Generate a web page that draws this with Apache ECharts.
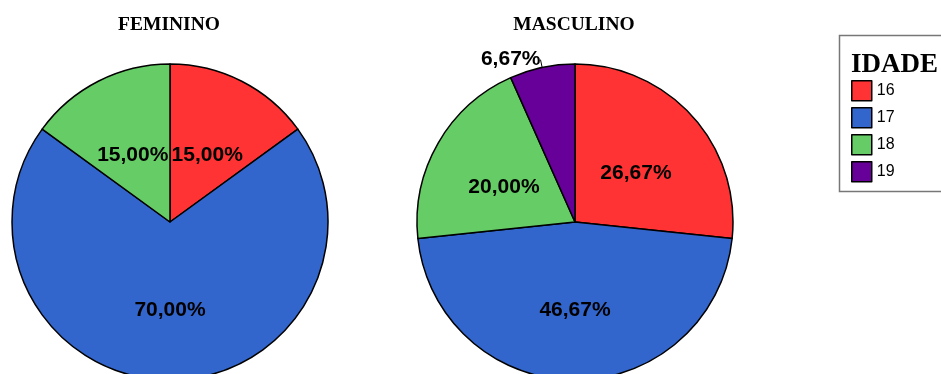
<!DOCTYPE html>
<html>
<head>
<meta charset="utf-8">
<script src="https://cdn.jsdelivr.net/npm/echarts@6/dist/echarts.min.js"></script>
<style>
html,body{margin:0;padding:0;background:#fff;}
#chart{width:941px;height:374px;}
</style>
</head>
<body>
<div id="chart"></div>
<script>
// Data
const categories = ['16', '17', '18', '19'];
const colors = ['#FF3333', '#3366CC', '#66CC66', '#660099'];
const panelTitles = ['FEMININO', 'MASCULINO'];
const femininoCounts = [3, 14, 3, 0];
const masculinoCounts = [4, 7, 3, 1];
const legendTitle = 'IDADE';

const chart = echarts.init(document.getElementById('chart'));

function buildData(counts, outsideIdx) {
  const total = counts.reduce((a, b) => a + b, 0);
  const out = [];
  counts.forEach((v, i) => {
    if (v <= 0) return;
    const pct = (v / total * 100).toFixed(2).replace('.', ',') + '%';
    const item = { name: categories[i], value: v, pct: pct, itemStyle: { color: colors[i] } };
    if (outsideIdx.indexOf(i) >= 0) {
      item.label = { position: 'outside', lineHeight: 22, distanceToLabelLine: 0,
                     formatter: p => p.data.pct };
      item.labelLine = { show: true, length: 8, length2: 0, lineStyle: { color: '#000', width: 1 } };
    }
    out.push(item);
  });
  return out;
}

const labelCfg = {
  show: true,
  position: 'inside',
  color: '#000',
  fontFamily: 'Liberation Sans, Arial, sans-serif',
  fontWeight: 'bold',
  fontSize: 21,
  lineHeight: 12,
  formatter: p => '\n' + p.data.pct
};

function pieSeries(counts, cx, outsideIdx) {
  return {
    type: 'pie',
    center: [cx, 222],
    radius: [0, 158],
    startAngle: 90,
    clockwise: true,
    animation: false,
    silent: true,
    avoidLabelOverlap: false,
    itemStyle: { borderColor: '#000', borderWidth: 1.5 },
    label: labelCfg,
    labelLine: { show: false },
    emphasis: { disabled: true },
    data: buildData(counts, outsideIdx)
  };
}

const serifTitle = { fontFamily: 'Liberation Serif, Times New Roman, serif', fontWeight: 'bold', fontSize: 19.5, color: '#000' };

chart.setOption({
  backgroundColor: '#fff',
  title: [
    { text: panelTitles[0], left: 169, top: 15, textAlign: 'center', padding: 0, textStyle: serifTitle },
    { text: panelTitles[1], left: 574, top: 15, textAlign: 'center', padding: 0, textStyle: serifTitle },
    { text: legendTitle, left: 851, top: 52, padding: 0,
      textStyle: { fontFamily: 'Liberation Serif, Times New Roman, serif', fontWeight: 'bold', fontSize: 27, color: '#000' } }
  ],
  legend: {
    data: categories.map((c, i) => ({ name: c, itemStyle: { color: colors[i], borderColor: '#000', borderWidth: 1.5 } })),
    orient: 'vertical',
    left: 851,
    top: 80,
    padding: 0,
    icon: 'rect',
    itemWidth: 20,
    itemHeight: 20,
    itemGap: 5.5,
    selectedMode: false,
    textStyle: { fontFamily: 'Liberation Sans, Arial, sans-serif', fontSize: 16, lineHeight: 20, color: '#000' }
  },
  graphic: [
    { type: 'rect', shape: { x: 839.5, y: 35.5, width: 120, height: 156 },
      style: { fill: 'none', stroke: '#777', lineWidth: 1.5 }, z: -1 }
  ],
  series: [
    pieSeries(femininoCounts, 170, []),
    pieSeries(masculinoCounts, 575, [3])
  ]
});
</script>
</body>
</html>
